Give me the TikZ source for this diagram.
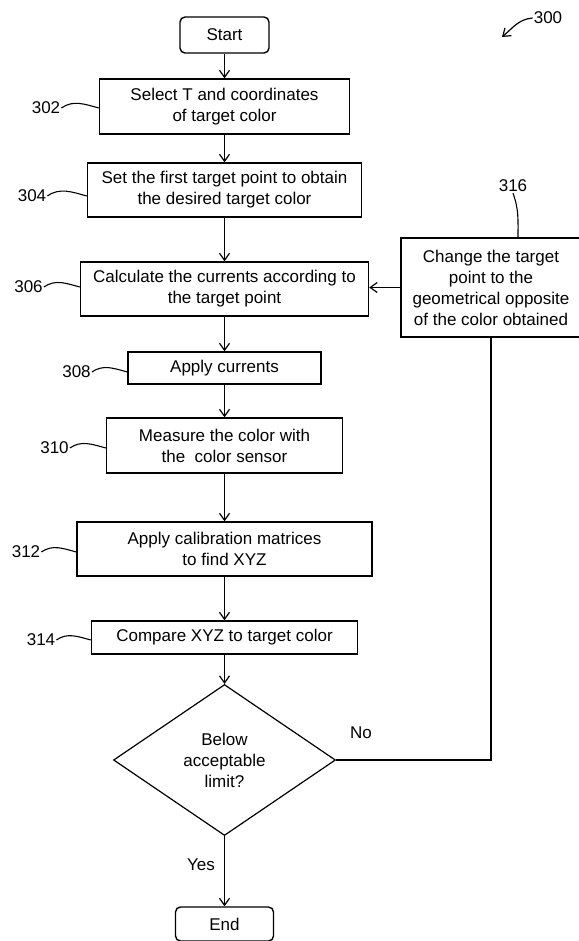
\documentclass[tikz,border=0pt]{standalone}
\usepackage{fontspec}
\setmainfont{Liberation Sans}
\usepackage{tikz}
\usetikzlibrary{shapes.geometric, arrows.meta, positioning, calc}

\begin{document}
\begin{tikzpicture}[x=1pt, y=1pt,
      box/.style={
        rectangle, draw=black, line width=1.4pt, align=center,
        inner sep=2pt, font=\fontsize{17pt}{21pt}\selectfont},
      term/.style={
        box, rounded corners=5pt, minimum width=89pt, minimum height=36pt},
      decision/.style={
        diamond, draw=black, line width=1.2pt, align=center, inner sep=0pt,
        minimum width=222pt, minimum height=151pt,
        font=\fontsize{17pt}{21pt}\selectfont},
      refnum/.style={inner sep=1pt, font=\fontsize{17pt}{21pt}\selectfont},
      arr/.style={-{Straight Barb[length=7pt, width=10pt]}, line width=1.2pt},
      lead/.style={line width=1.1pt}
    ]
    \useasboundingbox (0,0) rectangle (578,-941);

    % --- Flow steps (main column) ---
    \node[term] (start) at (224.5,-35) {Start};
    \node[box, minimum width=250pt, minimum height=55pt] (select) at (224.5,-106.5)
      {Select T and coordinates\\of target color};
    \node[box, minimum width=274pt, minimum height=54pt] (first) at (224.5,-190)
      {Set the first target point to obtain\\the desired target color};
    \node[box, minimum width=288pt, minimum height=54pt] (currents) at (224.5,-289)
      {Calculate the currents according to\\the target point};
    \node[box, minimum width=193pt, minimum height=32pt] (apply) at (224.5,-368)
      {Apply currents};
    \node[box, minimum width=236pt, minimum height=55pt] (measure) at (224.5,-445.5)
      {Measure the color with\\the\ \ color sensor};
    \node[box, minimum width=295pt, minimum height=54pt] (matrix) at (224.5,-549)
      {Apply calibration matrices\\to find XYZ};
    \node[box, minimum width=266pt, minimum height=33pt] (compare) at (224.5,-637.5)
      {Compare XYZ to target color};
    \node[decision] (limit) at (224.5,-760) {Below\\acceptable\\limit?};
    \node[term, minimum width=98pt, minimum height=34pt] (end) at (224.5,-924) {End};

    % --- Feedback step ---
    \node[box, minimum width=180pt, minimum height=99pt] (change) at (491,-287.5)
      {Change the target\\point to the\\geometrical opposite\\of the color obtained};

    % --- Reference numerals ---
    \node[refnum] (n300) at (548,-18)  {300};
    \node[refnum] (n302) at (46,-108)  {302};
    \node[refnum] (n304) at (32,-196)  {304};
    \node[refnum] (n306) at (28.5,-287) {306};
    \node[refnum] (n308) at (76.5,-372) {308};
    \node[refnum] (n310) at (54.5,-448) {310};
    \node[refnum] (n312) at (26,-552)  {312};
    \node[refnum] (n314) at (41,-640)  {314};
    \node[refnum] (n316) at (513,-186) {316};
    \coordinate (p300) at (502,-37);

    % --- Flow arrows ---
    \draw[arr] (start)    -- (select);
    \draw[arr] (select)   -- (first);
    \draw[arr] (first)    -- (currents);
    \draw[arr] (currents) -- (apply);
    \draw[arr] (apply)    -- (measure);
    \draw[arr] (measure)  -- (matrix);
    \draw[arr] (matrix)   -- (compare);
    \draw[arr] (compare)  -- (limit);
    \draw[arr] (limit) -- node[refnum, pos=0.41, left=8pt] {Yes} (end);

    % --- Loop back ---
    \draw[lead] (limit.east) -| node[refnum, pos=0.08, above=20pt] {No} (change.south);
    \draw[arr] (change.west) -- (currents.east |- change.west);

    % --- Leaders ---
    \draw[arr] (n300.west) to[out=185, in=40] (p300);
    \draw[lead] (n302.east) to[out=35, in=165] (select.west |- n302.east);
    \draw[lead] (n304.east) to[out=35, in=165] (first.west |- n304.east);
    \draw[lead] (n306.east) to[out=35, in=165] (currents.west |- n306.east);
    \draw[lead] (n308.east) to[out=35, in=165] (apply.west |- n308.east);
    \draw[lead] (n310.east) to[out=35, in=165] (measure.west |- n310.east);
    \draw[lead] (n312.east) to[out=35, in=165] (matrix.west |- n312.east);
    \draw[lead] (n314.east) to[out=35, in=165] (compare.west |- n314.east);
    \draw[lead] (n316.south) to[out=-70, in=90] ($(n316.south |- change.north)+(5,0)$);
  \end{tikzpicture}
\end{document}
